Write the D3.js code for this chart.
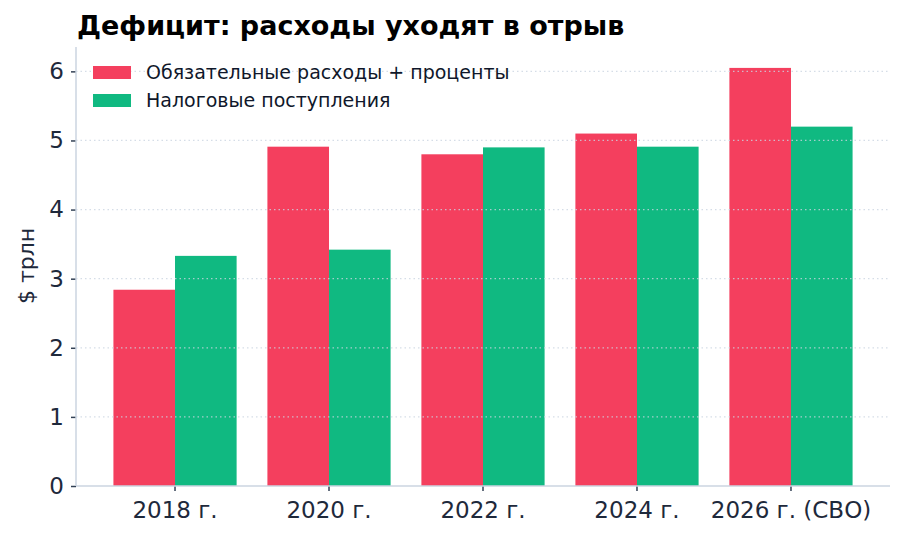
<!DOCTYPE html>
<html><head><meta charset="utf-8">
<script src="https://cdn.jsdelivr.net/npm/d3@7"></script>
<style>
body{margin:0;background:#fff;}
svg{display:block;font-family:"DejaVu Sans",sans-serif;}
</style></head>
<body><svg id="c" width="905" height="539"></svg>
<script>
const categories = ["2018 г.", "2020 г.", "2022 г.", "2024 г.", "2026 г. (СВО)"];
const spending = [2.84, 4.91, 4.80, 5.10, 6.05];
const revenue = [3.33, 3.42, 4.90, 4.91, 5.20];
const seriesNames = ["Обязательные расходы + проценты", "Налоговые поступления"];
const seriesColors = ["#f43f5e", "#10b981"];
const yTicks = [0, 1, 2, 3, 4, 5, 6];
const titleText = "Дефицит: расходы уходят в отрыв";
const yLabel = "$ трлн";

const svg = d3.select("#c");
const m = {left: 76, right: 890, top: 47, bottom: 486};

const x = d3.scaleBand().domain(categories).range([m.left, m.right])
  .paddingInner(0.2).paddingOuter(0.243);
const xs = d3.scaleBand().domain([0, 1]).range([0, x.bandwidth()]);
const y = d3.scaleLinear().domain([0, 6.3525]).range([m.bottom, m.top]);

const series = [spending, revenue];

// bars
series.forEach((vals, si) => {
  svg.append("g").selectAll("rect").data(vals).join("rect")
    .attr("x", (d, i) => x(categories[i]) + xs(si))
    .attr("width", xs.bandwidth())
    .attr("y", d => y(d))
    .attr("height", d => y(0) - y(d))
    .attr("fill", seriesColors[si]);
});

// grid (on top of bars)
svg.append("g").selectAll("line").data(yTicks.filter(t => t > 0)).join("line")
  .attr("x1", m.left).attr("x2", m.right)
  .attr("y1", d => y(d)).attr("y2", d => y(d))
  .attr("stroke", "#cbd5e1").attr("stroke-opacity", 0.8)
  .attr("stroke-width", 1.2).attr("stroke-dasharray", "1.5,3");

// axes
const yAxis = svg.append("g").attr("transform", `translate(${m.left},0)`)
  .call(d3.axisLeft(y).tickValues(yTicks).tickFormat(d3.format("d")).tickSize(5).tickPadding(7));
const xAxis = svg.append("g").attr("transform", `translate(0,${m.bottom})`)
  .call(d3.axisBottom(x).tickSize(5).tickPadding(11));
[xAxis, yAxis].forEach(g => {
  g.select(".domain").remove();
  g.selectAll(".tick line").attr("stroke", "#334155").attr("stroke-width", 1.5);
  g.selectAll(".tick text").attr("fill", "#1e293b").style("font-size", "23px")
    .style("font-family", "DejaVu Sans");
});
// spines
svg.append("line").attr("x1", m.left).attr("x2", m.left).attr("y1", m.top).attr("y2", m.bottom)
  .attr("stroke", "#cbd5e1").attr("stroke-width", 1.5);
svg.append("line").attr("x1", m.left).attr("x2", m.right).attr("y1", m.bottom).attr("y2", m.bottom)
  .attr("stroke", "#cbd5e1").attr("stroke-width", 1.5);

// y label
svg.append("text").attr("transform", `translate(34,266) rotate(-90)`)
  .attr("text-anchor", "middle").attr("fill", "#1e293b").style("font-size", "22px")
  .text(yLabel);

// title
svg.append("text").attr("x", 77).attr("y", 35).attr("fill", "#000")
  .style("font-size", "27px").style("font-weight", "bold").text(titleText);

// legend
const lg = svg.append("g");
seriesNames.forEach((n, i) => {
  const yy = 66 + i * 28;
  lg.append("rect").attr("x", 93).attr("y", yy).attr("width", 38).attr("height", 13)
    .attr("fill", seriesColors[i]);
  lg.append("text").attr("x", 146).attr("y", yy + 6.5).attr("dy", "0.35em")
    .attr("fill", "#0f172a").style("font-size", "19px").text(n);
});
</script></body></html>
